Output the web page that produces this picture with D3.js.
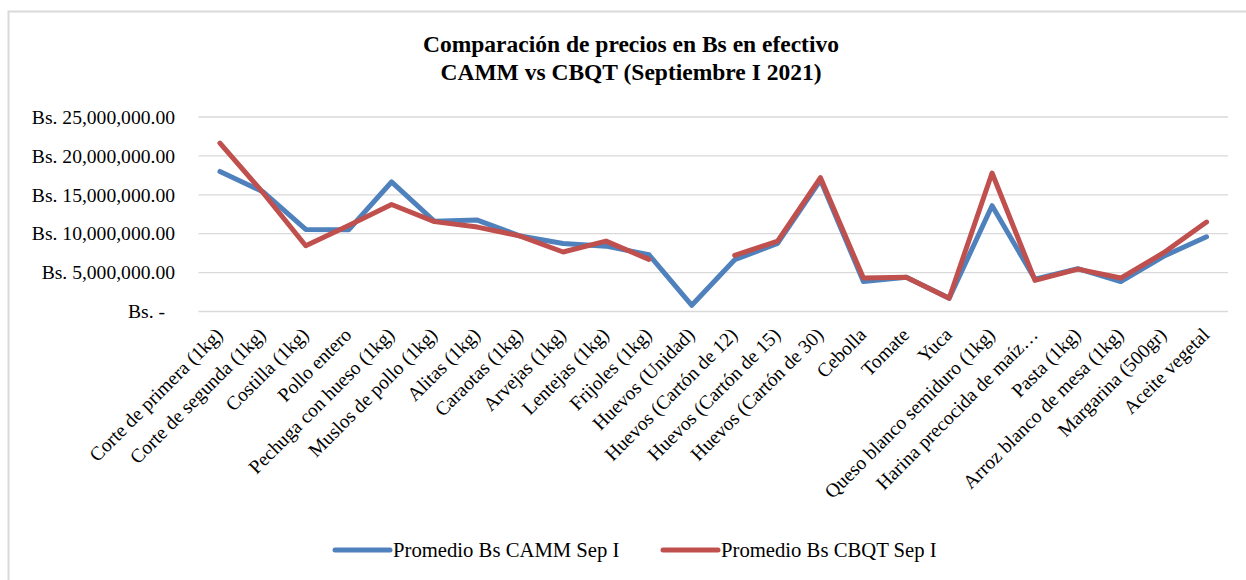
<!DOCTYPE html>
<html>
<head>
<meta charset="utf-8">
<script src="https://cdn.jsdelivr.net/npm/d3@7"></script>
<style>
  body { margin: 0; background: #fff; }
  svg text { font-family: "Liberation Serif", "DejaVu Serif", serif; fill: #000; }
</style>
</head>
<body>
<svg id="chart" width="1246" height="580"></svg>
<script>
'use strict';

// Chart data.
var categories = [
  'Corte de primera (1kg)', 'Corte de segunda (1kg)', 'Costilla (1kg)',
  'Pollo entero', 'Pechuga con hueso (1kg)', 'Muslos de pollo (1kg)',
  'Alitas (1kg)', 'Caraotas (1kg)', 'Arvejas (1kg)', 'Lentejas (1kg)',
  'Frijoles (1kg)', 'Huevos (Unidad)', 'Huevos (Cartón de 12)',
  'Huevos (Cartón de 15)', 'Huevos (Cartón de 30)', 'Cebolla', 'Tomate',
  'Yuca', 'Queso blanco semiduro (1kg)', 'Harina precocida de maíz…',
  'Pasta (1kg)', 'Arroz blanco de mesa (1kg)', 'Margarina (500gr)',
  'Aceite vegetal'
];

var camm = [
  18000000, 15400000, 10550000, 10500000, 16650000, 11600000,
  11750000, 9700000, 8750000, 8400000, 7300000, 800000, 6650000,
  8750000, 16900000, 3850000, 4400000, 1700000, 13600000, 4150000,
  5500000, 3850000, 7100000, 9600000
];

// CBQT has no value for Huevos (Unidad), so the line breaks there.
var cbqt = [
  21650000, 15300000, 8450000, 11050000, 13750000, 11550000,
  10850000, 9700000, 7650000, 9050000, 6700000, null, 7200000,
  9050000, 17200000, 4300000, 4400000, 1700000, 17800000, 4000000,
  5450000, 4300000, 7550000, 11500000
];

var yTicks = [0, 5000000, 10000000, 15000000, 20000000, 25000000];

var seriesNames = ['Promedio Bs CAMM Sep I', 'Promedio Bs CBQT Sep I'];
var seriesColors = ['#4f81bd', '#c0504d'];

var titleLines = [
  'Comparación de precios en Bs en efectivo',
  'CAMM vs CBQT (Septiembre I 2021)'
];

(function() {
  var svg = d3.select('#chart'),
      margin = {left: 198.5, right: 1228, top: 117, bottom: 311.5};

  // Outer frame: only the left and top edges are visible in the picture.
  svg.append('rect')
    .attr('x', 8.5)
    .attr('y', 11.5)
    .attr('width', 1260)
    .attr('height', 600)
    .attr('fill', 'none')
    .attr('stroke', '#d9d9d9')
    .attr('stroke-width', 2);

  var x = d3.scaleBand()
    .domain(categories)
    .range([margin.left, margin.right]);

  var y = d3.scaleLinear()
    .domain([0, 25000000])
    .range([margin.bottom, margin.top]);

  // Title.
  svg.append('text')
    .attr('x', 631)
    .attr('y', 52)
    .attr('text-anchor', 'middle')
    .style('font-weight', 'bold')
    .style('font-size', '23.5px')
    .selectAll('tspan')
    .data(titleLines)
    .enter().append('tspan')
    .attr('x', 631)
    .attr('dy', function(d, i) { return i === 0 ? 0 : 28; })
    .text(function(d) { return d; });

  // Gridlines.
  svg.append('g')
    .attr('class', 'grid')
    .selectAll('line')
    .data(yTicks)
    .enter().append('line')
    .attr('x1', margin.left)
    .attr('x2', margin.right)
    .attr('y1', function(d) { return y(d); })
    .attr('y2', function(d) { return y(d); })
    .attr('stroke', '#d9d9d9')
    .attr('stroke-width', 1.3);

  // Y axis labels, Excel accounting style.
  var fmt = d3.format(',.2f');
  var yAxis = d3.axisLeft(y)
    .tickValues(yTicks)
    .tickSize(0)
    .tickPadding(0)
    .tickFormat(function(d) {
      return d === 0 ? 'Bs. -' : 'Bs. ' + fmt(d);
    });

  var yg = svg.append('g')
    .attr('transform', 'translate(175,0)')
    .call(yAxis);
  yg.select('.domain').remove();
  yg.selectAll('text')
    .style('font-size', '19.6px')
    .style('font-family', '"Liberation Serif", serif')
    .attr('fill', '#000')
    .attr('dx', function(d) { return d === 0 ? -10 : 0; });

  // X axis labels, rotated 45 degrees, ending just right of each point.
  svg.append('g')
    .attr('class', 'x-labels')
    .selectAll('text')
    .data(categories)
    .enter().append('text')
    .attr('text-anchor', 'end')
    .style('font-size', '19.5px')
    .attr('transform', function(d) {
      var cx = x(d) + x.bandwidth() / 2;
      return 'translate(' + (cx + 4) + ',' + 336 + ') rotate(-45)';
    })
    .text(function(d) { return d; });

  // Lines.
  var line = d3.line()
    .defined(function(d) { return d !== null; })
    .x(function(d, i) { return x(categories[i]) + x.bandwidth() / 2; })
    .y(function(d) { return y(d); });

  svg.append('g')
    .attr('class', 'series')
    .selectAll('path')
    .data([camm, cbqt])
    .enter().append('path')
    .attr('d', line)
    .attr('fill', 'none')
    .attr('stroke', function(d, i) { return seriesColors[i]; })
    .attr('stroke-width', 5)
    .attr('stroke-linejoin', 'round')
    .attr('stroke-linecap', 'round');

  // Legend.
  var legendX = [335, 663];
  var legend = svg.append('g')
    .attr('class', 'legend')
    .selectAll('g')
    .data(seriesNames)
    .enter().append('g')
    .attr('transform', function(d, i) {
      return 'translate(' + legendX[i] + ',550)';
    });

  legend.append('line')
    .attr('x1', 0)
    .attr('x2', 55)
    .attr('stroke', function(d, i) { return seriesColors[i]; })
    .attr('stroke-width', 5)
    .attr('stroke-linecap', 'round');

  legend.append('text')
    .attr('x', 58)
    .attr('y', 7)
    .style('font-size', '20.7px')
    .text(function(d) { return d; });
})();
</script>
</body>
</html>
